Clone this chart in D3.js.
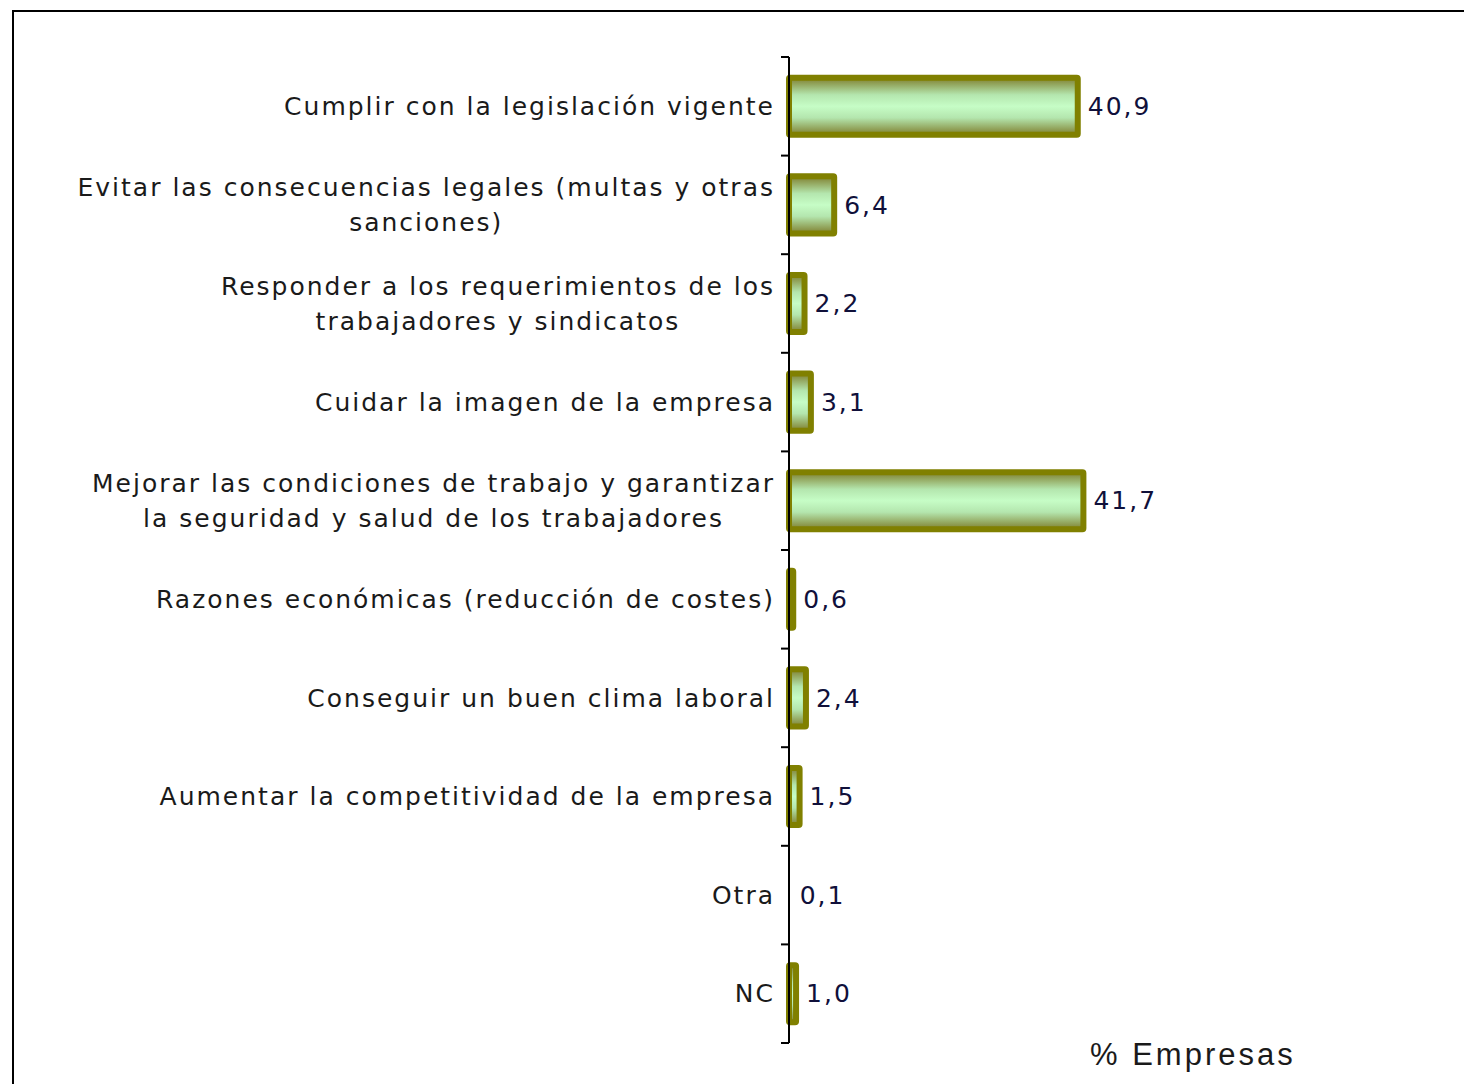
<!DOCTYPE html>
<html>
<head>
<meta charset="utf-8">
<script src="https://cdn.jsdelivr.net/npm/d3@7"></script>
<style>
  body { margin: 0; background: #fff; }
  svg { display: block; }
  text { font-family: "DejaVu Sans", Verdana, sans-serif; }
</style>
</head>
<body>
<svg id="chart" width="1464" height="1084"></svg>
<script>
var width = 1464;
var height = 1084;

// category labels (line breaks as in the original)
var categories = [
    "Cumplir con la legislación vigente",
    "Evitar las consecuencias legales (multas y otras\nsanciones)",
    "Responder a los requerimientos de los\ntrabajadores y sindicatos",
    "Cuidar la imagen de la empresa",
    "Mejorar las condiciones de trabajo y garantizar\nla seguridad y salud de los trabajadores",
    "Razones económicas (reducción de costes)",
    "Conseguir un buen clima laboral",
    "Aumentar la competitividad de la empresa",
    "Otra",
    "NC"
];
var values = [40.9, 6.4, 2.2, 3.1, 41.7, 0.6, 2.4, 1.5, 0.1, 1.0];
var axisTitle = "% Empresas";

var svg = d3.select("#chart");

// outer frame (top and left edges only visible)
svg.append("line")
    .attr("x1", 12).attr("y1", 11).attr("x2", width).attr("y2", 11)
    .style("stroke", "#000").style("stroke-width", 2);
svg.append("line")
    .attr("x1", 13).attr("y1", 11).attr("x2", 13).attr("y2", height)
    .style("stroke", "#000").style("stroke-width", 2);

var x = d3.scaleLinear()
    .domain([0, 45])
    .range([789, 789 + 45 * 7.06]);

var y = d3.scaleBand()
    .domain(categories)
    .range([57, 1043])
    .paddingInner(0.36)
    .paddingOuter(0.18);

// gradient for the bar fill
var grad = svg.append("defs").append("linearGradient")
    .attr("id", "barGrad")
    .attr("x1", 0).attr("y1", 0).attr("x2", 0).attr("y2", 1);
[[0, "#7f7f2e"], [0.3, "#b4e6ae"], [0.5, "#c6fdc6"], [0.7, "#b4e6ae"], [1, "#7f7f2e"]]
    .forEach(function(s) {
        grad.append("stop").attr("offset", s[0]).attr("stop-color", s[1]);
    });

var rows = categories.map(function(c, i) { return {cat: c, value: values[i]}; });

// bars (values under one pixel wide are not drawn, like the original)
svg.selectAll("rect.bar")
    .data(rows.filter(function(d) { return x(d.value) - x(0) >= 1; }))
    .enter().append("rect")
    .attr("class", "bar")
    .attr("x", x(0))
    .attr("y", function(d) { return y(d.cat) + 3; })
    .attr("width", function(d) { return x(d.value) - x(0); })
    .attr("height", y.bandwidth() - 6)
    .attr("rx", 1)
    .style("fill", "url(#barGrad)")
    .style("stroke", "#808000")
    .style("stroke-width", 6);

// value labels
svg.selectAll("text.val")
    .data(rows)
    .enter().append("text")
    .attr("class", "val")
    .attr("x", function(d) { return x(d.value) + 10; })
    .attr("y", function(d) { return y(d.cat) + y.bandwidth() / 2; })
    .attr("dy", "0.35em")
    .style("font-size", "25px")
    .style("letter-spacing", "2px")
    .style("fill", "#10103a")
    .text(function(d) { return d3.format(".1f")(d.value).replace(".", ","); });

// category axis with ticks at the band boundaries
var axisG = svg.append("g");
axisG.append("line")
    .attr("x1", 789).attr("x2", 789)
    .attr("y1", y.range()[0]).attr("y2", y.range()[1])
    .style("stroke", "#000").style("stroke-width", 2);
var bounds = d3.range(categories.length + 1).map(function(i) {
    return y.range()[0] + i * y.step();
});
axisG.selectAll("line.tick")
    .data(bounds)
    .enter().append("line")
    .attr("class", "tick")
    .attr("x1", 781).attr("x2", 789)
    .attr("y1", function(d) { return d; }).attr("y2", function(d) { return d; })
    .style("stroke", "#000").style("stroke-width", 2);

// category labels, multi-line ones centred under the first line
var lineH = 35;
var labels = svg.selectAll("g.lab")
    .data(rows)
    .enter().append("g")
    .attr("class", "lab");
labels.each(function(d) {
    var g = d3.select(this);
    var lines = d.cat.split("\n");
    var cy = y(d.cat) + y.bandwidth() / 2;
    var top = cy - (lines.length - 1) * lineH / 2;
    var first = g.append("text")
        .attr("x", 775)
        .attr("y", top)
        .attr("dy", "0.35em")
        .style("font-size", "25px")
        .style("letter-spacing", "2px")
        .style("fill", "#1a1a1a")
        .style("text-anchor", "end")
        .text(lines[0]);
    var w = first.node().getComputedTextLength();
    for (var i = 1; i < lines.length; i++) {
        g.append("text")
            .attr("x", 775 - w / 2)
            .attr("y", top + i * lineH)
            .attr("dy", "0.35em")
            .style("font-size", "25px")
            .style("letter-spacing", "2px")
            .style("fill", "#1a1a1a")
            .style("text-anchor", "middle")
            .text(lines[i]);
    }
});

// axis title
svg.append("text")
    .attr("x", 1090)
    .attr("y", 1065)
    .style("font-family", "'Liberation Sans', Arial, sans-serif")
    .style("font-size", "31px")
    .style("letter-spacing", "3px")
    .style("fill", "#1a1a1a")
    .text(axisTitle);
</script>
</body>
</html>
